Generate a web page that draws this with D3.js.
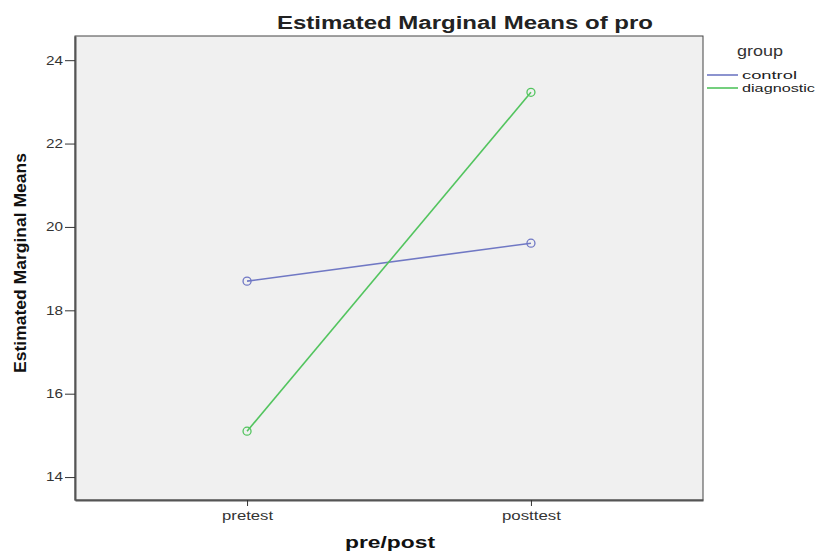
<!DOCTYPE html>
<html>
<head>
<meta charset="utf-8">
<script src="https://cdn.jsdelivr.net/npm/d3@7"></script>
<style>
  body { margin: 0; background: #fff; }
  text { font-family: "Liberation Sans", Arial, sans-serif; }
</style>
</head>
<body>
<div id="chart"></div>
<script>
// data
var phases = ["pretest", "posttest"];
var groups = ["control", "diagnostic"];
var controlMeans = [18.70, 19.61];
var diagnosticMeans = [15.10, 23.23];
var yTicks = [14, 16, 18, 20, 22, 24];
var colors = ["#7078c4", "#52c45e"];

var svgWidth = 816;
var svgHeight = 554;
var margin = { top: 36, right: 113, bottom: 54, left: 75 };
var width = svgWidth - margin.left - margin.right;
var height = svgHeight - margin.top - margin.bottom;

// the reference text is drawn wide, so stretch each label to its measured length
function stretch(sel, len) {
  sel.attr("textLength", len).attr("lengthAdjust", "spacingAndGlyphs");
}

var svg = d3.select("#chart")
  .append("svg")
  .attr("width", svgWidth)
  .attr("height", svgHeight);

var chartGroup = svg.append("g")
  .attr("transform", `translate(${margin.left}, ${margin.top})`);

var xScale = d3.scalePoint()
  .domain(phases)
  .range([0, width])
  .padding(0.606);

var yScale = d3.scaleLinear()
  .domain([13.45, 24.58])
  .range([height, 0]);

// plot background
chartGroup.append("rect")
  .attr("width", width)
  .attr("height", height)
  .attr("fill", "#f0f0f0")
  .attr("stroke", "#444")
  .attr("stroke-width", 1);

// axes
var leftAxis = d3.axisLeft(yScale).tickValues(yTicks).tickSize(10).tickSizeOuter(0).tickPadding(2);
var bottomAxis = d3.axisBottom(xScale).tickSize(6).tickSizeOuter(0).tickPadding(5);

var yAxis = chartGroup.append("g").call(leftAxis);
var xAxis = chartGroup.append("g")
  .attr("transform", `translate(0, ${height})`)
  .call(bottomAxis);

[yAxis, xAxis].forEach(function (ax) {
  ax.select(".domain").attr("stroke", "#555").attr("stroke-width", 2);
  ax.selectAll(".tick line").attr("stroke", "#333");
  ax.selectAll(".tick text")
    .attr("fill", "#333")
    .style("font-size", "12px")
    .style("font-family", "Liberation Sans, Arial, sans-serif");
});
yAxis.selectAll(".tick text").each(function () { stretch(d3.select(this), 17); });
xAxis.selectAll(".tick text")
  .each(function (d) { stretch(d3.select(this), d === "pretest" ? 51 : 59); });

// lines and markers
var series = [controlMeans, diagnosticMeans];
var line = d3.line()
  .x((d, i) => xScale(phases[i]))
  .y(d => yScale(d));

series.forEach(function (vals, k) {
  chartGroup.append("path")
    .datum(vals)
    .attr("d", line)
    .attr("fill", "none")
    .attr("stroke", colors[k])
    .attr("stroke-width", 1.6);

  chartGroup.selectAll(".pt" + k)
    .data(vals)
    .enter()
    .append("circle")
    .attr("cx", (d, i) => xScale(phases[i]))
    .attr("cy", d => yScale(d))
    .attr("r", 4)
    .attr("fill", "none")
    .attr("stroke", colors[k])
    .attr("stroke-width", 1.3);
});

// title
svg.append("text")
  .attr("x", 465)
  .attr("y", 29)
  .attr("text-anchor", "middle")
  .style("font-size", "18px")
  .style("font-weight", "bold")
  .attr("fill", "#222")
  .text("Estimated Marginal Means of pro")
  .call(stretch, 376);

// axis labels
svg.append("text")
  .attr("transform", "translate(26, 263) rotate(-90)")
  .attr("text-anchor", "middle")
  .style("font-size", "17px")
  .style("font-weight", "bold")
  .attr("fill", "#111")
  .text("Estimated Marginal Means")
  .call(stretch, 220);

svg.append("text")
  .attr("x", 390)
  .attr("y", 548)
  .attr("text-anchor", "middle")
  .style("font-size", "16px")
  .style("font-weight", "bold")
  .attr("fill", "#111")
  .text("pre/post")
  .call(stretch, 90);

// legend
var legend = svg.append("g").attr("transform", "translate(707, 0)");
legend.append("text")
  .attr("x", 30)
  .attr("y", 56)
  .style("font-size", "14px")
  .attr("fill", "#333")
  .text("group")
  .call(stretch, 46);

var legendLen = [55, 73];
groups.forEach(function (g, k) {
  var y = 75 + k * 13;
  legend.append("line")
    .attr("x1", 0).attr("x2", 31)
    .attr("y1", y).attr("y2", y)
    .attr("stroke", colors[k])
    .attr("stroke-width", 1.6);
  legend.append("text")
    .attr("x", 35)
    .attr("y", y + 4)
    .style("font-size", "11px")
    .attr("fill", "#222")
    .text(g)
    .call(stretch, legendLen[k]);
});
</script>
</body>
</html>
